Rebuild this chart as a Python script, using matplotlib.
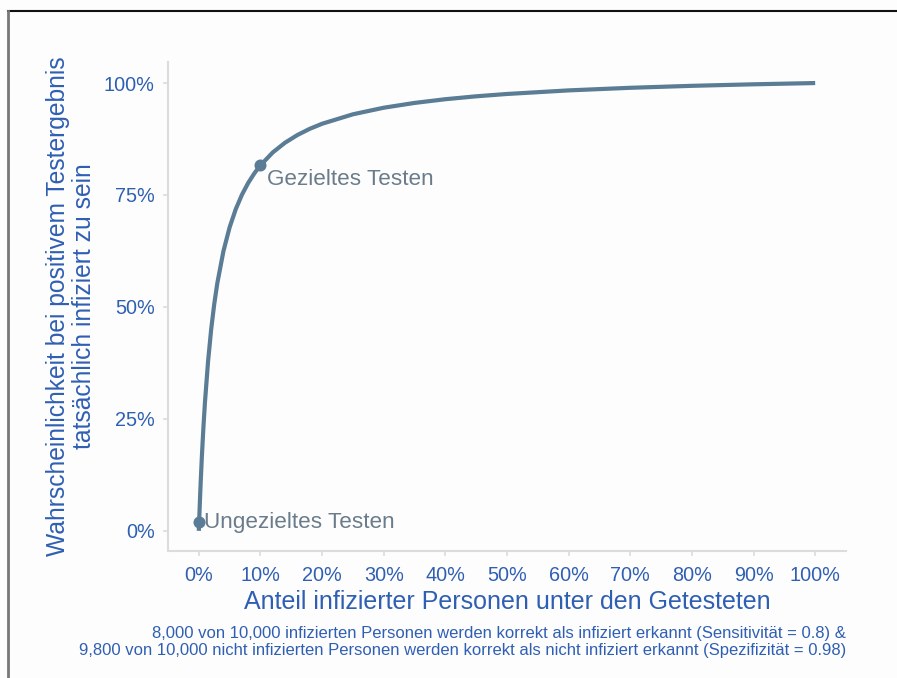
import matplotlib
matplotlib.use("Agg")
import matplotlib.pyplot as plt
from matplotlib.lines import Line2D

plt.rcParams['font.family'] = ['Liberation Sans', 'DejaVu Sans']

# Curve values (share infected -> probability truly infected)
share_infected = [0.0, 0.0005, 0.001, 0.002, 0.003, 0.005, 0.0075, 0.01, 0.015, 0.02,
                  0.025, 0.03, 0.04, 0.05, 0.06, 0.07, 0.08, 0.09, 0.10, 0.12, 0.14,
                  0.16, 0.18, 0.20, 0.25, 0.30, 0.35, 0.40, 0.45, 0.50, 0.60, 0.70,
                  0.80, 0.90, 1.00]
prob_infected = [0.0, 0.0196, 0.0385, 0.0742, 0.1074, 0.1674, 0.2321, 0.2878, 0.3785, 0.4494,
                 0.5063, 0.5530, 0.6250, 0.6780, 0.7186, 0.7507, 0.7767, 0.7982, 0.8163, 0.8451,
                 0.8669, 0.8840, 0.8978, 0.9091, 0.9302, 0.9449, 0.9556, 0.9639, 0.9704, 0.9756,
                 0.9836, 0.9894, 0.9938, 0.9972, 1.0]

point_x = [0.0005, 0.10]
point_y = [0.0196, 0.8163]
point_labels = ["Ungezieltes Testen", "Gezieltes Testen"]

x_ticks = [0, 0.1, 0.2, 0.3, 0.4, 0.5, 0.6, 0.7, 0.8, 0.9, 1.0]
x_tick_labels = ["0%", "10%", "20%", "30%", "40%", "50%", "60%", "70%", "80%", "90%", "100%"]
y_ticks = [0, 0.25, 0.5, 0.75, 1.0]
y_tick_labels = ["0%", "25%", "50%", "75%", "100%"]

blue = "#2f5fb3"
line_col = "#5a7c95"
txt_gray = "#6a7c8b"
grid_gray = "#dcdcdc"

fig = plt.figure(figsize=(8.97, 6.78), dpi=100, facecolor="#fdfdfd")
ax = fig.add_axes([168/897, 1-551/678, (846-168)/897, (551-62)/678])
ax.set_facecolor("#fdfdfd")

ax.plot(share_infected, prob_infected, color=line_col, lw=3.0, solid_capstyle="butt", zorder=3)
ax.scatter(point_x, point_y, s=75, color=line_col, zorder=4, linewidths=0)

ax.text(point_x[0] + 0.008, point_y[0], point_labels[0], color=txt_gray, fontsize=16.2,
        ha="left", va="center")
ax.text(point_x[1] + 0.011, point_y[1] - 0.032, point_labels[1], color=txt_gray, fontsize=16.2,
        ha="left", va="center")

ax.set_xlim(-0.05, 1.05)
ax.set_ylim(-0.045, 1.047)
ax.set_xticks(x_ticks)
ax.set_xticklabels(x_tick_labels)
ax.set_yticks(y_ticks)
ax.set_yticklabels(y_tick_labels)

for side in ["top", "right"]:
    ax.spines[side].set_visible(False)
for side in ["left", "bottom"]:
    ax.spines[side].set_color(grid_gray)
    ax.spines[side].set_linewidth(1.5)

ax.tick_params(axis="both", colors=grid_gray, length=3.5, width=1.2, labelcolor=blue,
               labelsize=14.3)
ax.tick_params(axis="x", pad=7)
ax.tick_params(axis="y", pad=6)

ax.set_xlabel("Anteil infizierter Personen unter den Getesteten", color=blue, fontsize=18,
              labelpad=4)
ax.set_ylabel("Wahrscheinlichkeit bei positivem Testergebnis\ntatsächlich infiziert zu sein",
              color=blue, fontsize=17.7, labelpad=6, linespacing=1.1)

fig.text(846/897, 1-642/678,
         "8,000 von 10,000 infizierten Personen werden korrekt als infiziert erkannt (Sensitivität = 0.8) &\n"
         "9,800 von 10,000 nicht infizierten Personen werden korrekt als nicht infiziert erkannt (Spezifizität = 0.98)",
         color=blue, fontsize=12, ha="right", va="center", multialignment="right", linespacing=1.2)

# Frame lines of the original screenshot
fig.add_artist(Line2D([8/897, 1.0], [1-11/678, 1-11/678], color="#111111", lw=1.5,
                      transform=fig.transFigure))
fig.add_artist(Line2D([8/897, 8/897], [0, 1-11/678], color="#777777", lw=2,
                      transform=fig.transFigure))

fig.savefig("out.png", dpi=100, facecolor=fig.get_facecolor())
